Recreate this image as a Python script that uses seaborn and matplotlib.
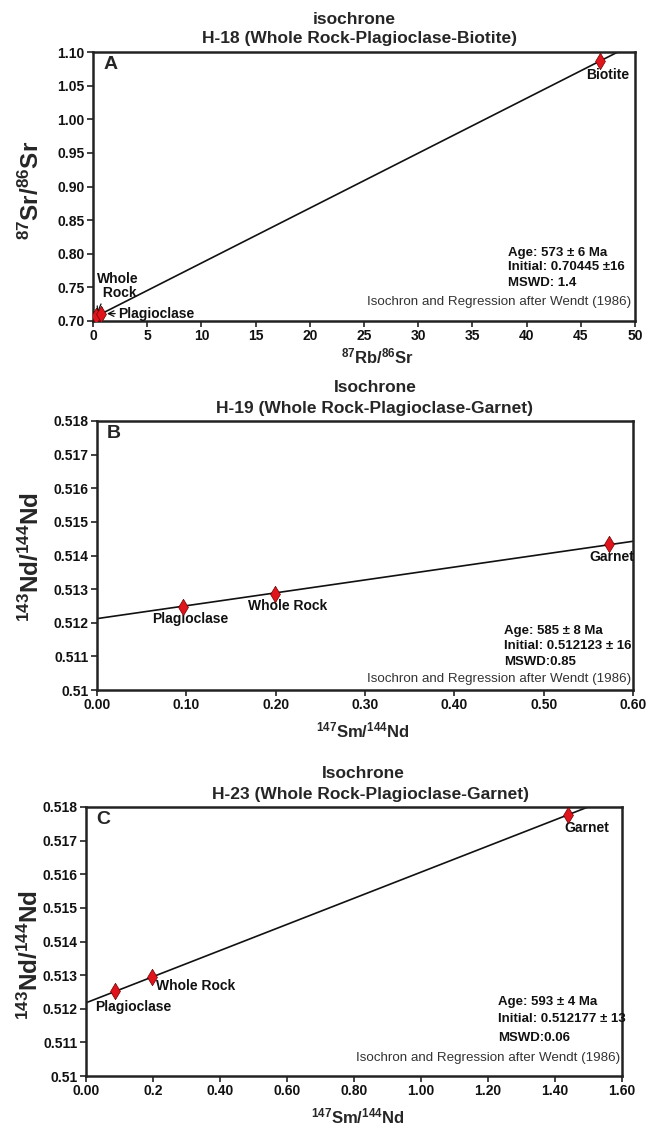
import numpy as np
import pandas as pd
import matplotlib
matplotlib.use("Agg")
import matplotlib.pyplot as plt
import seaborn as sns

# --- values ---
samples_a = ["Whole Rock", "Plagioclase", "Biotite"]
rb_sr = [0.28, 0.78, 46.8]
sr_sr = [0.7075, 0.7110, 1.0866]

samples_b = ["Plagioclase", "Whole Rock", "Garnet"]
sm_nd_b = [0.096, 0.199, 0.573]
nd_nd_b = [0.51247, 0.51286, 0.51434]

samples_c = ["Plagioclase", "Whole Rock", "Garnet"]
sm_nd_c = [0.087, 0.197, 1.439]
nd_nd_c = [0.51253, 0.51294, 0.51776]

# isochron parameters (age in Ma, initial ratio)
ages = [573, 585, 593]
initials = [0.70445, 0.512123, 0.512177]
decay_rb = 1.42e-11
decay_sm = 6.54e-12

ticks_a_x = [0, 5, 10, 15, 20, 25, 30, 35, 40, 45, 50]
ticks_a_y = [0.70, 0.75, 0.80, 0.85, 0.90, 0.95, 1.00, 1.05, 1.10]
ticks_nd_y = [0.510, 0.511, 0.512, 0.513, 0.514, 0.515, 0.516, 0.517, 0.518]
labels_nd_y = ["0.51", "0.511", "0.512", "0.513", "0.514", "0.515", "0.516", "0.517", "0.518"]
ticks_b_x = [0.0, 0.1, 0.2, 0.3, 0.4, 0.5, 0.6]
labels_b_x = ["0.00", "0.10", "0.20", "0.30", "0.40", "0.50", "0.60"]
ticks_c_x = [0.0, 0.2, 0.4, 0.6, 0.8, 1.0, 1.2, 1.4, 1.6]
labels_c_x = ["0.00", "0.2", "0.40", "0.60", "0.80", "1.00", "1.20", "1.40", "1.60"]

sns.set_style("ticks")
plt.rcParams["font.family"] = ["Liberation Sans", "DejaVu Sans"]
plt.rcParams["mathtext.fontset"] = "custom"
plt.rcParams["mathtext.bf"] = "Liberation Sans:bold"
plt.rcParams["mathtext.rm"] = "Liberation Sans:bold"
plt.rcParams["mathtext.default"] = "bf"

W, H = 654, 1128
fig = plt.figure(figsize=(W / 100, H / 100), dpi=100)

TITLE_FS = 12.5
XLAB_FS = 12
YLAB_FS = 17.5
WENDT = "Isochron and Regression after Wendt (1986)"


def px_axes(left, top, right, bottom):
    return fig.add_axes([left / W, 1 - bottom / H, (right - left) / W, (bottom - top) / H])


def style_axes(ax):
    for s in ax.spines.values():
        s.set_linewidth(1.8)
        s.set_color("#222222")
    ax.tick_params(direction="out", length=4, width=1.2, color="#222222",
                   labelsize=10, pad=2, top=False, right=False)
    for lab in ax.get_xticklabels() + ax.get_yticklabels():
        lab.set_fontweight("bold")
        lab.set_color("#111111")


def draw_isochron(ax, xs, ys, age, initial, lam, xmax):
    slope = np.exp(lam * age * 1e6) - 1
    line = pd.DataFrame({"x": [0, xmax], "y": [initial, initial + slope * xmax]})
    sns.lineplot(data=line, x="x", y="y", ax=ax, color="#111111", lw=1.2)
    pts = pd.DataFrame({"x": xs, "y": ys})
    sns.scatterplot(data=pts, x="x", y="y", ax=ax, marker="d", s=70,
                    color="#e0141c", edgecolor="#6a0000", linewidth=0.5, zorder=5)
    ax.set_xlabel("")
    ax.set_ylabel("")


def stats_block(ax, x, ys, lines, wendt_xy):
    for txt, y in zip(lines, ys):
        ax.text(x, y, txt, transform=ax.transAxes, fontsize=9.5,
                fontweight="bold", color="#111111", ha="left", va="center")
    ax.text(wendt_xy[0], wendt_xy[1], WENDT, transform=ax.transAxes,
            fontsize=9.6, color="#333333", ha="right", va="center")


def titles(x1, y1, t1, x2, y2, t2):
    fig.text(x1 / W, 1 - y1 / H, t1, fontsize=TITLE_FS, fontweight="bold",
             ha="center", va="center")
    fig.text(x2 / W, 1 - y2 / H, t2, fontsize=TITLE_FS, fontweight="bold",
             ha="center", va="center")


def axis_labels(xl, xpos, yl, ypos):
    fig.text(xpos[0] / W, 1 - xpos[1] / H, xl, fontsize=XLAB_FS,
             fontweight="bold", ha="center", va="center")
    fig.text(ypos[0] / W, 1 - ypos[1] / H, yl, fontsize=YLAB_FS,
             fontweight="bold", rotation=90, ha="center", va="center")


lbl = dict(fontsize=10, fontweight="bold", color="#111111",
           textcoords="offset pixels", ha="center", va="center")

# --- Panel A ---
axA = px_axes(93, 52, 635, 321)
draw_isochron(axA, rb_sr, sr_sr, ages[0], initials[0], decay_rb, 50)
axA.set_xlim(0, 50)
axA.set_ylim(0.70, 1.10)
axA.set_xticks(ticks_a_x)
axA.set_xticklabels([str(t) for t in ticks_a_x])
axA.set_yticks(ticks_a_y)
axA.set_yticklabels([f"{t:.2f}" for t in ticks_a_y])
style_axes(axA)
axA.text(0.02, 0.952, "A", transform=axA.transAxes, fontsize=14,
         fontweight="bold", va="center", ha="left")
axA.annotate(samples_a[2], xy=(rb_sr[2], sr_sr[2]), xytext=(7, -14), **lbl)
axA.annotate("Whole\n Rock", xy=(rb_sr[0], sr_sr[0]), xytext=(22, 30),
             fontsize=10, fontweight="bold", color="#111111", linespacing=1.0,
             textcoords="offset pixels", ha="center", va="center")
axA.annotate("", xy=(rb_sr[0], sr_sr[0]), xytext=(5, 12), textcoords="offset pixels",
             arrowprops=dict(arrowstyle="->", color="#111111", lw=0.9,
                             shrinkA=0, shrinkB=2))
axA.annotate(samples_a[1], xy=(rb_sr[1], sr_sr[1]), xytext=(17, 0),
             fontsize=10, fontweight="bold", color="#111111",
             textcoords="offset pixels", ha="left", va="center",
             arrowprops=dict(arrowstyle="->", color="#111111", lw=0.9,
                             shrinkA=0, shrinkB=4))
stats_block(axA, 0.766, [0.253, 0.201, 0.141],
            ["Age: 573 ± 6 Ma", "Initial: 0.70445 ±16", "MSWD: 1.4"],
            (0.993, 0.071))
titles(354, 19, "isochrone", 359, 38, "H-18 (Whole Rock-Plagioclase-Biotite)")
axis_labels(r"$^{87}$Rb/$^{86}$Sr", (378, 356), r"$^{87}$Sr/$^{86}$Sr", (31, 190))

# --- Panel B ---
axB = px_axes(97, 421, 633, 690)
draw_isochron(axB, sm_nd_b, nd_nd_b, ages[1], initials[1], decay_sm, 0.6)
axB.set_xlim(0, 0.6)
axB.set_ylim(0.510, 0.518)
axB.set_xticks(ticks_b_x)
axB.set_xticklabels(labels_b_x)
axB.set_yticks(ticks_nd_y)
axB.set_yticklabels(labels_nd_y)
style_axes(axB)
axB.text(0.019, 0.952, "B", transform=axB.transAxes, fontsize=14,
         fontweight="bold", va="center", ha="left")
for name, x, y, off in zip(samples_b, sm_nd_b, nd_nd_b,
                           [(7, -12), (13, -12), (3, -13)]):
    axB.annotate(name, xy=(x, y), xytext=off, **lbl)
stats_block(axB, 0.759, [0.219, 0.164, 0.104],
            ["Age: 585 ± 8 Ma", "Initial: 0.512123 ± 16", "MSWD:0.85"],
            (0.996, 0.041))
titles(375, 387, "Isochrone", 375, 408, "H-19 (Whole Rock-Plagioclase-Garnet)")
axis_labels(r"$^{147}$Sm/$^{144}$Nd", (363, 730), r"$^{143}$Nd/$^{144}$Nd", (31, 557))

# --- Panel C ---
axC = px_axes(86, 807, 622, 1076)
draw_isochron(axC, sm_nd_c, nd_nd_c, ages[2], initials[2], decay_sm, 1.6)
axC.set_xlim(0, 1.6)
axC.set_ylim(0.510, 0.518)
axC.set_xticks(ticks_c_x)
axC.set_xticklabels(labels_c_x)
axC.set_yticks(ticks_nd_y)
axC.set_yticklabels(labels_nd_y)
style_axes(axC)
axC.text(0.019, 0.955, "C", transform=axC.transAxes, fontsize=14,
         fontweight="bold", va="center", ha="left")
for name, x, y, off in zip(samples_c, sm_nd_c, nd_nd_c,
                           [(18, -16), (44, -9), (19, -13)]):
    axC.annotate(name, xy=(x, y), xytext=off, **lbl)
stats_block(axC, 0.769, [0.275, 0.212, 0.141],
            ["Age: 593 ± 4 Ma", "Initial: 0.512177 ± 13", "MSWD:0.06"],
            (0.996, 0.067))
titles(363, 774, "Isochrone", 370, 794, "H-23 (Whole Rock-Plagioclase-Garnet)")
axis_labels(r"$^{147}$Sm/$^{144}$Nd", (358, 1116), r"$^{143}$Nd/$^{144}$Nd", (30, 955))

fig.savefig("out.png", dpi=100)
